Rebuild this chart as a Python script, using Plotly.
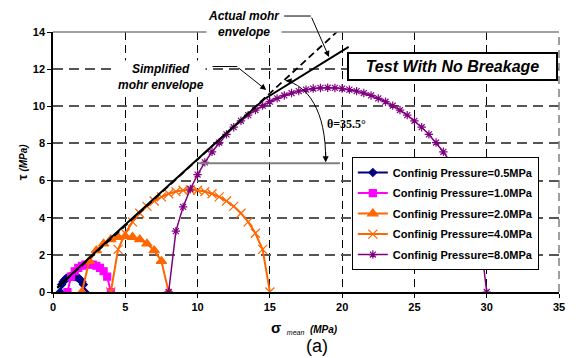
import numpy as np
import plotly.graph_objects as go

# Triaxial tests: confining pressure (sigma3) and major principal stress (sigma1), MPa
confining_pressure = [0.5, 1.0, 2.0, 4.0, 8.0]
major_stress = [2.2, 4.0, 8.0, 15.0, 30.0]
sample_step = [0.1, 0.25, 0.5, 0.5, 0.5]
series_names = [f"Confinig Pressure={p:.1f}MPa" for p in confining_pressure]
series_colors = ["#000080", "#FF00FF", "#FF6600", "#FF6600", "#800080"]
series_symbols = ["diamond", "square", "triangle-up", "x-thin-open", "asterisk-open"]
marker_sizes = [6, 7, 9, 9, 7]

# Curved (actual) failure envelope, read along the tangent points
actual_env_sigma = [0.3, 4.0, 10.7, 14.6, 20.45]
actual_env_tau = [0.24, 2.92, 7.65, 10.38, 13.2]

# Straight (simplified) envelope from the friction angle
friction_angle_deg = 35.5
simplified_sigma = [0.3, 19.65]

x_ticks = [0, 5, 10, 15, 20, 25, 30, 35]
y_ticks = [0, 2, 4, 6, 8, 10, 12, 14]
X_MAX, Y_MAX = 35, 14

FONT = "Arial, Liberation Sans, sans-serif"

fig = go.Figure()

# Mohr circles (upper half), sampled along sigma
for s3, s1, step, name, col, sym, ms in zip(confining_pressure, major_stress, sample_step,
                                            series_names, series_colors, series_symbols, marker_sizes):
    centre = (s1 + s3) / 2
    radius = (s1 - s3) / 2
    sig = np.arange(s3, s1 + step / 2, step)
    tau = np.sqrt(np.clip(radius ** 2 - (sig - centre) ** 2, 0, None))
    fig.add_trace(go.Scatter(
        x=sig, y=tau, mode="lines+markers", name=name, legendgroup=name,
        line=dict(color=col, width=2 if col != "#800080" else 1.5),
        marker=dict(symbol=sym, size=ms, color=col, line=dict(color=col, width=1.2)),
    ))

# Envelopes
fig.add_trace(go.Scatter(
    x=actual_env_sigma, y=actual_env_tau, mode="lines", showlegend=False,
    line=dict(color="black", width=2),
))
slope = np.tan(np.radians(friction_angle_deg))
fig.add_trace(go.Scatter(
    x=simplified_sigma, y=[slope * s for s in simplified_sigma], mode="lines", showlegend=False,
    line=dict(color="black", width=1.8, dash="7px,4px"),
))


def px(sig):
    return sig / X_MAX


def py(tau):
    return tau / Y_MAX


shapes = [
    # frame: solid grey top, dashed grey right
    dict(type="line", xref="paper", yref="paper", x0=0, x1=1, y0=1, y1=1,
         line=dict(color="#808080", width=1.5)),
    dict(type="line", xref="paper", yref="paper", x0=1, x1=1, y0=0, y1=1,
         line=dict(color="#808080", width=1.5, dash="8px,5px")),
    # horizontal reference for the friction angle
    dict(type="line", xref="x", yref="y", x0=10.0, x1=19.85, y0=6.93, y1=6.93,
         line=dict(color="#808080", width=2)),
    # angle arc
    dict(type="path", xref="x", yref="y",
         path="M 16.09,11.39 C 17.6,11.1 18.9,9.8 18.86,7.05",
         line=dict(color="black", width=1)),
    # callout leader lines
    dict(type="line", xref="paper", yref="paper", x0=px(15.99), x1=px(17.83),
         y0=py(14.86), y1=py(14.86), line=dict(color="black", width=1)),
    dict(type="line", xref="paper", yref="paper", x0=px(11.03), x1=px(12.75),
         y0=py(12.14), y1=py(12.14), line=dict(color="black", width=1)),
]

arrow_style = dict(text="", showarrow=True, arrowhead=2, arrowsize=1.2, arrowwidth=1,
                   arrowcolor="black", xref="x", yref="y")

annotations = [
    # leader arrows (tail offsets in pixels)
    dict(x=19.09, y=12.65, ax=-18, ay=-41, **arrow_style),
    dict(x=14.75, y=10.88, ax=-29, ay=-23, **arrow_style),
    # arc ends
    dict(x=16.09, y=11.39, ax=9, ay=1, **arrow_style),
    dict(x=18.86, y=6.98, ax=0, ay=-12, **arrow_style),
    # labels
    dict(x=0.378, y=1.03, xref="paper", yref="paper", showarrow=False, bgcolor="white",
         xanchor="center", yanchor="middle",
         text="<b><i>Actual mohr<br>envelope</i></b>", align="center",
         font=dict(family=FONT, size=12, color="black")),
    dict(x=px(7.45), y=py(11.6), xref="paper", yref="paper", showarrow=False, bgcolor="white",
         xanchor="center", yanchor="middle",
         text="<b><i>Simplified<br>mohr envelope</i></b>", align="center",
         font=dict(family=FONT, size=12, color="black")),
    dict(x=20.3, y=9.05, xref="x", yref="y", showarrow=False,
         text="<b>θ=35.5°</b>",
         font=dict(family="Times New Roman, Liberation Serif, serif", size=12, color="black")),
    dict(x=0.789, y=0.8673, xref="paper", yref="paper", showarrow=False,
         xanchor="center", yanchor="middle",
         text="<b><i>Test With No Breakage</i></b>", bgcolor="white",
         bordercolor="black", borderwidth=2, borderpad=2, width=203, height=21,
         font=dict(family=FONT, size=16, color="black")),
    # axis titles
    dict(x=0.498, y=-0.138, xref="paper", yref="paper", showarrow=False,
         xanchor="center", yanchor="middle",
         text="<b><span style='font-size:15px'>σ</span></b>  <sub><i>mean</i></sub>  <b><i>(MPa)</i></b>",
         font=dict(family=FONT, size=10, color="black")),
    dict(x=-0.061, y=0.5, xref="paper", yref="paper", showarrow=False, textangle=-90,
         xanchor="center", yanchor="middle",
         text="<b><span style='font-size:13px'>τ</span></b> <b><i>(MPa)</i></b>",
         font=dict(family=FONT, size=10, color="black")),
    dict(x=0.5217, y=-0.2077, xref="paper", yref="paper", showarrow=False,
         xanchor="center", yanchor="middle",
         text="(a)", font=dict(family=FONT, size=18, color="black")),
]

fig.update_layout(
    width=577, height=358,
    margin=dict(l=53, r=16, t=32, b=66),
    paper_bgcolor="white", plot_bgcolor="white",
    font=dict(family=FONT, size=11, color="black"),
    shapes=shapes, annotations=annotations,
    legend=dict(
        x=0.5906, y=0.519, xanchor="left", yanchor="top",
        bgcolor="white", bordercolor="black", borderwidth=1,
        font=dict(family=FONT, size=11, color="black", weight="bold"),
        tracegroupgap=1.5, itemwidth=30,
        entrywidth=160, entrywidthmode="pixels",
    ),
)

fig.update_xaxes(
    range=[0, X_MAX], tickvals=x_ticks, ticktext=[str(t) for t in x_ticks],
    showgrid=True, gridcolor="black", gridwidth=1, griddash="8px,5px",
    showline=True, linecolor="black", linewidth=2, zeroline=False,
    ticks="outside", ticklen=4, tickcolor="black",
    tickfont=dict(family=FONT, size=11, color="black", weight="bold"),
)
fig.update_yaxes(
    range=[0, Y_MAX], tickvals=y_ticks, ticktext=[str(t) for t in y_ticks],
    showgrid=True, gridcolor="#555555", gridwidth=1.5, griddash="10px,6px",
    showline=True, linecolor="black", linewidth=1.5, zeroline=False,
    ticks="outside", ticklen=4, tickcolor="black",
    tickfont=dict(family=FONT, size=11, color="black", weight="bold"),
)

fig.write_html("out.html")
